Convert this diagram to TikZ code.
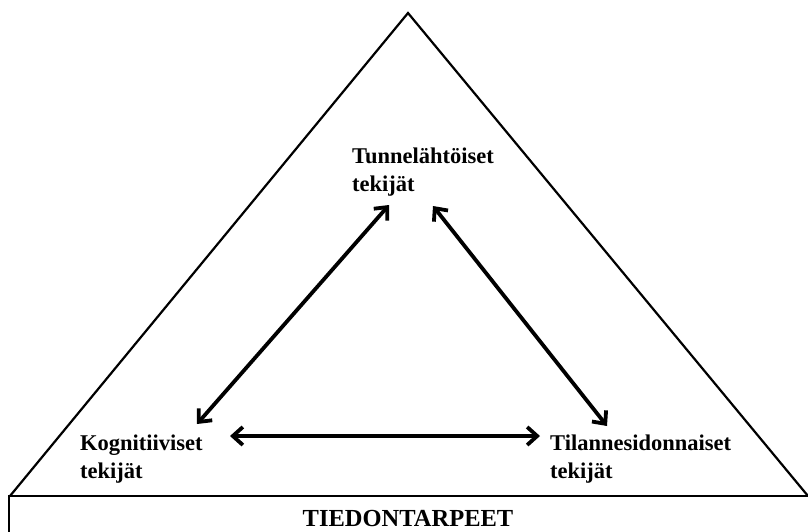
\documentclass[tikz,border=0pt]{standalone}
\usepackage{fontspec}
\setmainfont{Liberation Serif}
\usetikzlibrary{arrows.meta}
\tikzset{
  frame/.style={draw=black, line width=2.2pt, line join=miter},
  label/.style={inner sep=0pt, anchor=north west, align=left,
    font=\bfseries\fontsize{22.5}{27.5}\selectfont},
  link/.style={draw=black, line width=3.8pt,
    {Straight Barb[length=10pt,width=18pt,line width=3.8pt]}-{Straight Barb[length=10pt,width=18pt,line width=3.8pt]}}
}
\begin{document}
\begin{tikzpicture}[x=1pt,y=-1pt]
\useasboundingbox (0,0) rectangle (808,531);
\begin{scope}
\clip (0,0) rectangle (808,531);
% outer triangle and the base band
\coordinate (apex) at (408,13);
\coordinate (bl) at (10,496);
\coordinate (br) at (808,496);
\draw[frame] (bl) -- (apex) -- (br);
\draw[frame, line width=2.8pt] (9,545) -- (9,496) -- (812,496);
\end{scope}
\node[anchor=base, inner sep=0pt, font=\bfseries\fontsize{24.5}{28}\selectfont] (needs) at (408,526) {TIEDONTARPEET};

% factor labels
\node[label] (emo) at (352,148) {Tunnelähtöiset\\tekijät};
\node[label] (cog) at (80,435) {Kognitiiviset\\tekijät};
\node[label] (sit) at (550,435) {Tilannesidonnaiset\\tekijät};

% arrow ends
\coordinate (e1) at (389,205);
\coordinate (c1) at (197,424);
\coordinate (e2) at (433,206);
\coordinate (s2) at (607,426);
\coordinate (c3) at (230,436);
\coordinate (s3) at (540,436);

\draw[link] (e1) -- (c1);
\draw[link] (e2) -- (s2);
\draw[link] (c3) -- (s3);
\end{tikzpicture}
\end{document}
